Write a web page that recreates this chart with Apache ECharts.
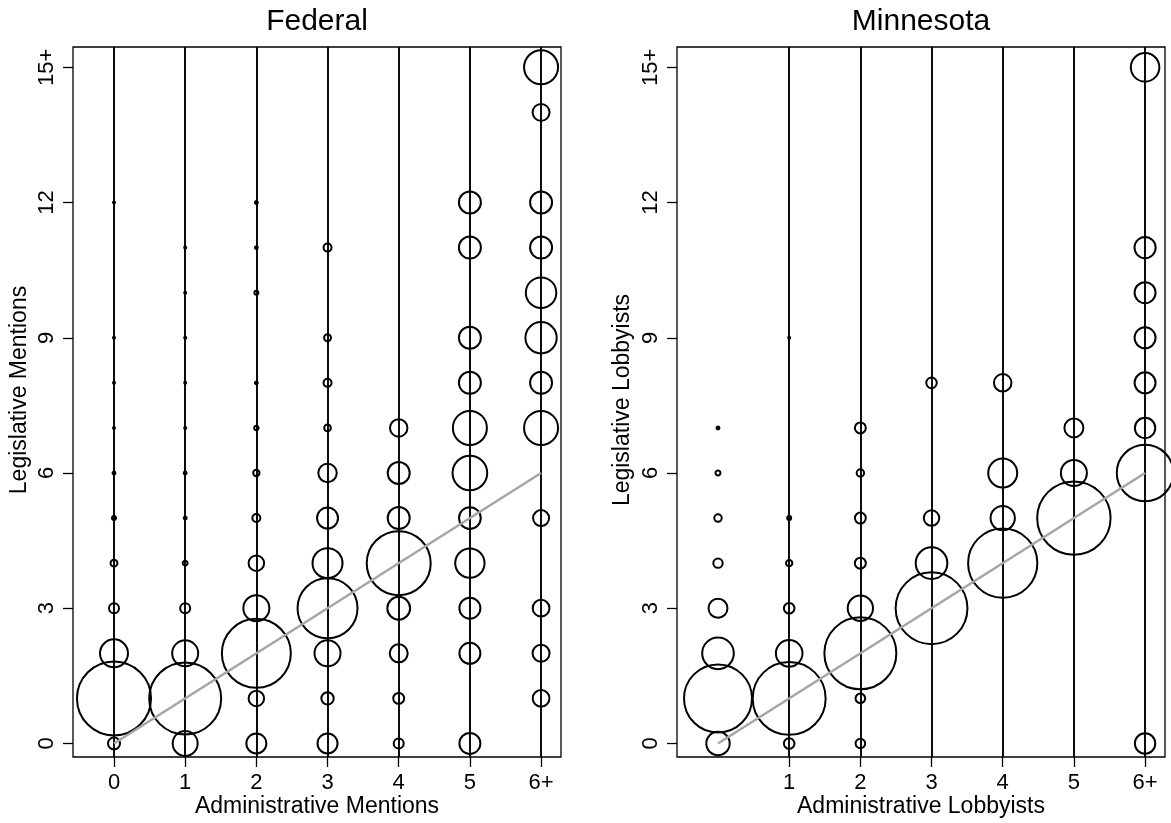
<!DOCTYPE html>
<html><head><meta charset="utf-8">
<script src="https://cdn.jsdelivr.net/npm/echarts@6/dist/echarts.min.js"></script>
<style>html,body{margin:0;padding:0;background:#fff}#c{width:1171px;height:823px}</style>
</head><body><div id="c"></div>
<script>
// ---- text ----
const panelTitles = ['Federal', 'Minnesota'];
const xAxisNames = ['Administrative Mentions', 'Administrative Lobbyists'];
const yAxisNames = ['Legislative Mentions', 'Legislative Lobbyists'];

// ---- ticks ----
const fedXTicks = [0, 1, 2, 3, 4, 5, 6];
const mnXTicks = [1, 2, 3, 4, 5, 6];
const xTickText = {0: '0', 1: '1', 2: '2', 3: '3', 4: '4', 5: '5', 6: '6+'};
const yTicks = [0, 3, 6, 9, 12, 15];
const yTickText = {0: '0', 3: '3', 6: '6', 9: '9', 12: '12', 15: '15+'};

// ---- Federal: per administrative-mentions column, [legislative mentions, count] ----
const fed0 = [[0, 36], [1, 1370], [2, 196], [3, 25], [4, 12], [5, 4], [6, 2], [7, 1], [8, 1], [9, 1], [12, 1]];
const fed1 = [[0, 156], [1, 1296], [2, 169], [3, 25], [4, 6], [5, 2], [6, 2], [7, 1], [8, 1], [9, 1], [10, 1], [11, 1]];
const fed2 = [[0, 100], [1, 60], [2, 1190], [3, 169], [4, 60], [5, 16], [6, 10], [7, 5], [8, 2], [10, 4], [11, 2], [12, 2]];
const fed3 = [[0, 100], [1, 38], [2, 169], [3, 900], [4, 225], [5, 110], [6, 85], [7, 11], [8, 16], [9, 12], [11, 16]];
const fed4 = [[0, 25], [1, 30], [2, 81], [3, 130], [4, 1024], [5, 121], [6, 121], [7, 76]];
const fed5 = [[0, 110], [2, 110], [3, 110], [4, 215], [5, 118], [6, 300], [7, 289], [8, 121], [9, 121], [11, 121], [12, 121]];
const fed6 = [[1, 70], [2, 72], [3, 70], [5, 64], [7, 289], [8, 121], [9, 245], [10, 232], [11, 121], [12, 121], [14, 72], [15, 289]];
const fedColumns = [fed0, fed1, fed2, fed3, fed4, fed5, fed6];
const fedGuides = [0, 1, 2, 3, 4, 5, 6];

// ---- Minnesota: per administrative-lobbyists column, [legislative lobbyists, count] ----
const mn0 = [[0, 137], [1, 1156], [2, 250], [3, 90], [4, 22], [5, 14], [6, 6], [7, 2]];
const mn1 = [[0, 28], [1, 1330], [2, 177], [3, 28], [4, 10], [5, 4], [9, 1]];
const mn2 = [[0, 23], [1, 23], [2, 1296], [3, 160], [4, 30], [5, 30], [6, 14], [7, 30]];
const mn3 = [[3, 1290], [4, 250], [5, 60], [8, 28]];
const mn4 = [[4, 1200], [5, 148], [6, 210], [8, 77]];
const mn5 = [[5, 1347], [6, 169], [7, 90]];
const mn6 = [[0, 104], [6, 800], [7, 104], [8, 110], [9, 110], [10, 110], [11, 112], [15, 204]];
const mnColumns = [mn0, mn1, mn2, mn3, mn4, mn5, mn6];
const mnGuides = [1, 2, 3, 4, 5, 6];

// ---- reference line ----
const fitLine = [[0, 0], [6, 6]];

const FONT = '"Liberation Sans", Arial, Helvetica, sans-serif';

function toPoints(columns) {
  const pts = [];
  columns.forEach((col, x) => col.forEach(([y, n]) => pts.push([x, y, n])));
  return pts;
}

const grids = [
  {left: 73, top: 47, width: 488, height: 710},
  {left: 677, top: 47, width: 488, height: 710}
].map(g => Object.assign(g, {show: true, borderColor: '#000', borderWidth: 1.3, backgroundColor: 'transparent'}));

function xAxis(i, ticks) {
  return {
    gridIndex: i, type: 'value', min: -0.576, max: 6.28, position: 'bottom',
    axisLine: {show: false, onZero: false}, splitLine: {show: false},
    axisTick: {show: true, length: 10, inside: false, customValues: ticks, lineStyle: {color: '#000', width: 1.3}},
    axisLabel: {customValues: ticks, formatter: v => xTickText[v], fontSize: 22, color: '#000', fontFamily: FONT, margin: 15}
  };
}
function yAxis(i) {
  return {
    gridIndex: i, type: 'value', min: -0.30, max: 15.45, position: 'left',
    axisLine: {show: false, onZero: false}, splitLine: {show: false},
    axisTick: {show: true, length: 10, inside: false, customValues: yTicks, lineStyle: {color: '#000', width: 1.3}},
    axisLabel: {customValues: yTicks, formatter: v => yTickText[v], rotate: 90, fontSize: 22, color: '#000', fontFamily: FONT, margin: 15}
  };
}

function panelSeries(i, columns, guides) {
  return [
    {
      type: 'scatter', xAxisIndex: i, yAxisIndex: i, clip: false, z: 2,
      data: toPoints(columns),
      symbol: 'circle',
      symbolSize: v => 2 * Math.sqrt(v[2]),
      itemStyle: {color: 'rgba(0,0,0,0)', borderColor: '#000', borderWidth: 2, opacity: 1},
      emphasis: {disabled: true},
      markLine: {
        silent: true, symbol: ['none', 'none'], animation: false,
        label: {show: false},
        lineStyle: {color: '#000', width: 1.9, type: 'solid'},
        emphasis: {disabled: true},
        data: guides.map(x => ({xAxis: x}))
      }
    },
    {
      type: 'line', xAxisIndex: i, yAxisIndex: i, z: 5,
      data: fitLine, symbol: 'none', silent: true,
      lineStyle: {color: '#a6a6a6', width: 2.6}
    }
  ];
}

const textEl = (text, x, y, size, rot) => ({
  type: 'text', x: x, y: y, rotation: rot || 0, silent: true,
  style: {text: text, fontSize: size, fontFamily: FONT, fill: '#000', align: 'center', verticalAlign: 'middle'}
});

const option = {
  animation: false,
  backgroundColor: '#fff',
  grid: grids,
  xAxis: [xAxis(0, fedXTicks), xAxis(1, mnXTicks)],
  yAxis: [yAxis(0), yAxis(1)],
  series: [].concat(panelSeries(0, fedColumns, fedGuides), panelSeries(1, mnColumns, mnGuides)),
  graphic: [
    textEl(panelTitles[0], 317, 22, 30),
    textEl(panelTitles[1], 921, 22, 30),
    textEl(xAxisNames[0], 317, 807, 23),
    textEl(xAxisNames[1], 921, 807, 23),
    textEl(yAxisNames[0], 20, 390, 23, Math.PI / 2),
    textEl(yAxisNames[1], 623, 400, 23, Math.PI / 2)
  ]
};

const chart = echarts.init(document.getElementById('c'), null, {renderer: 'canvas'});
chart.setOption(option);
</script>
</body></html>
